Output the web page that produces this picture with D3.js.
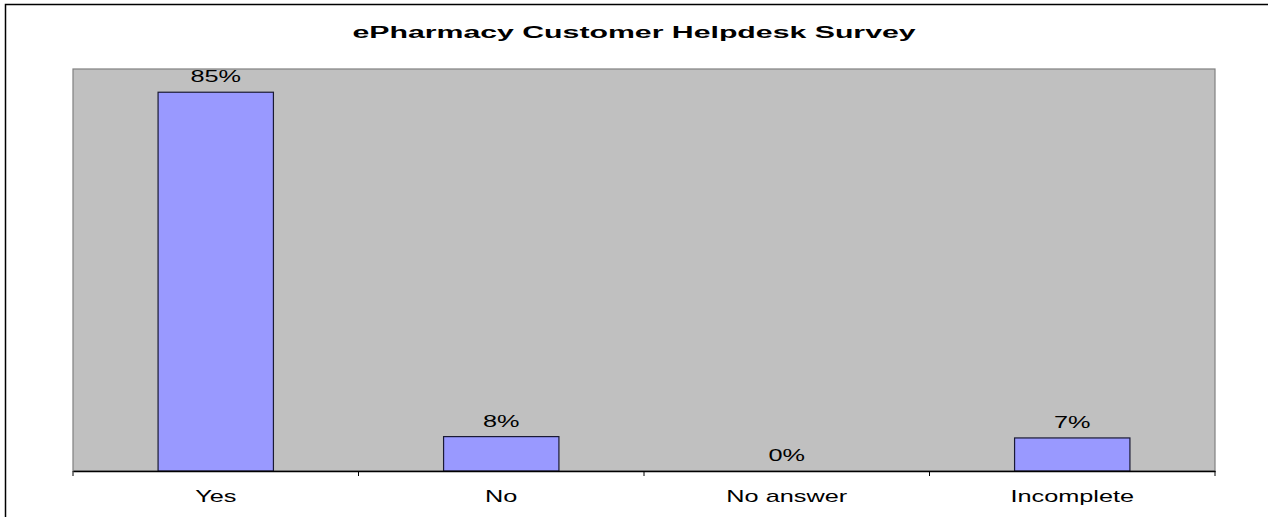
<!DOCTYPE html>
<html>
<head>
<meta charset="utf-8">
<script src="https://cdn.jsdelivr.net/npm/d3@7"></script>
<style>
  html, body { margin: 0; padding: 0; background: #fff; }
  svg { display: block; }
</style>
</head>
<body>
<svg id="chart" width="1268" height="517"></svg>
<script>
const title = "ePharmacy Customer Helpdesk Survey";
const categories = ["Yes", "No", "No answer", "Incomplete"];
const values = [0.848, 0.077, 0, 0.074];
const yMax = 0.9;

const svg = d3.select("#chart");
const plot = { left: 73, right: 1215, top: 69, bottom: 471 };
const stretch = 1.58;

// outer chart border
svg.append("rect")
  .attr("x", 5.5).attr("y", 4.5)
  .attr("width", 1400).attr("height", 700)
  .attr("fill", "#fff")
  .attr("stroke", "#000").attr("stroke-width", 1.5);

// plot area
svg.append("rect")
  .attr("x", plot.left).attr("y", plot.top)
  .attr("width", plot.right - plot.left).attr("height", plot.bottom - plot.top)
  .attr("fill", "#C0C0C0")
  .attr("stroke", "#808080").attr("stroke-width", 1.2);

const x = d3.scaleBand().domain(categories).range([plot.left, plot.right]).padding(0);
const y = d3.scaleLinear().domain([0, yMax]).range([plot.bottom, plot.top]);
const barW = x.bandwidth() * 0.404;

const data = categories.map((c, i) => ({ c, v: values[i] }));

// bars
svg.append("g").selectAll("rect")
  .data(data.filter(d => d.v > 0))
  .join("rect")
  .attr("x", d => x(d.c) + (x.bandwidth() - barW) / 2)
  .attr("y", d => y(d.v))
  .attr("width", barW)
  .attr("height", d => y(0) - y(d.v))
  .attr("fill", "#9999FF")
  .attr("stroke", "#1a1a33").attr("stroke-width", 1.2);

// value labels
const fmt = d3.format(".0%");
svg.append("g").selectAll("text")
  .data(data)
  .join("text")
  .attr("transform", d => `translate(${x(d.c) + x.bandwidth() / 2},${y(d.v) - 10}) scale(${stretch},1)`)
  .attr("text-anchor", "middle")
  .attr("font-family", "Liberation Sans, Arial, sans-serif")
  .attr("font-size", 16)
  .attr("fill", "#000")
  .text(d => fmt(d.v));

// x axis
const xAxis = d3.axisBottom(x).tickSize(0).tickFormat("");
const gx = svg.append("g").attr("transform", `translate(0,${plot.bottom})`).call(xAxis);
gx.select(".domain").attr("stroke", "#000").attr("stroke-width", 1.3);
const bounds = categories.map(c => x(c)).concat([plot.right]);
gx.selectAll("line.bound")
  .data(bounds)
  .join("line")
  .attr("class", "bound")
  .attr("x1", d => d).attr("x2", d => d)
  .attr("y1", 0).attr("y2", 5)
  .attr("stroke", "#000").attr("stroke-width", 1);

// category labels
gx.selectAll("text.cat")
  .data(categories)
  .join("text")
  .attr("class", "cat")
  .attr("transform", d => `translate(${x(d) + x.bandwidth() / 2},31) scale(${stretch},1)`)
  .attr("text-anchor", "middle")
  .attr("font-family", "Liberation Sans, Arial, sans-serif")
  .attr("font-size", 16)
  .attr("fill", "#000")
  .text(d => d);

// title
svg.append("text")
  .attr("transform", `translate(634,38) scale(1.78,1)`)
  .attr("text-anchor", "middle")
  .attr("font-family", "Liberation Sans, Arial, sans-serif")
  .attr("font-weight", "bold")
  .attr("font-size", 17)
  .attr("fill", "#000")
  .text(title);
</script>
</body>
</html>
